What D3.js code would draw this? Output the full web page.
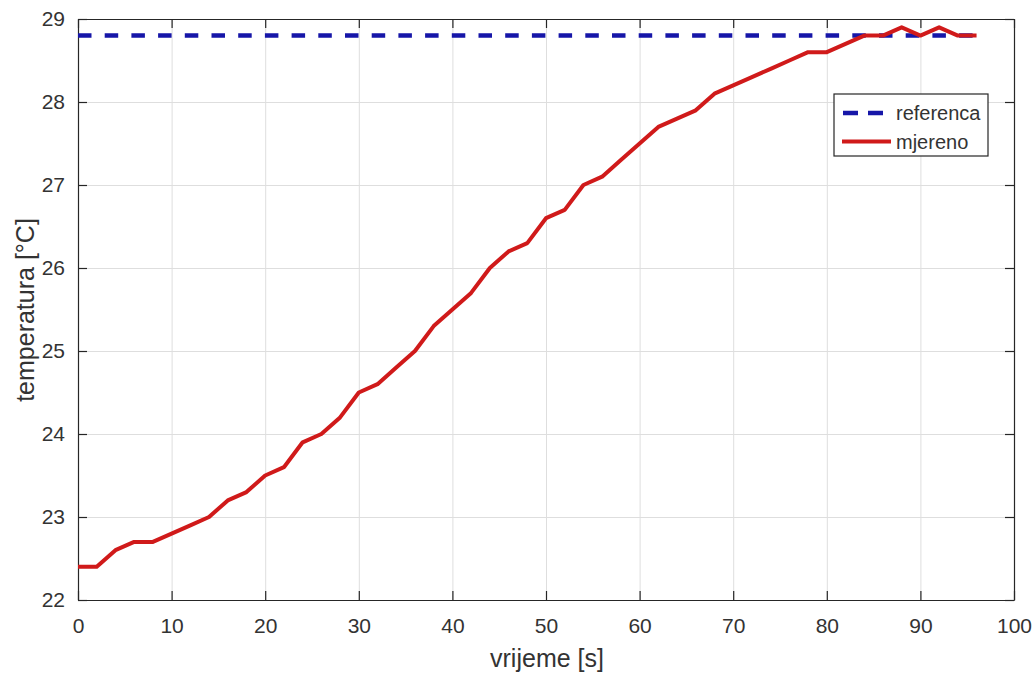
<!DOCTYPE html>
<html>
<head>
<meta charset="utf-8">
<script src="https://cdn.jsdelivr.net/npm/d3@7"></script>
<style>
  html, body { margin: 0; padding: 0; background: #ffffff; }
  svg { display: block; font-family: "Liberation Sans", Arial, sans-serif; }
</style>
</head>
<body>
<svg id="chart" width="1035" height="673"></svg>
<script>
// ---- data ----
const time = [0,2,4,6,8,10,12,14,16,18,20,22,24,26,28,30,32,34,36,38,40,42,44,46,48,50,52,54,56,58,60,62,64,66,68,70,72,74,76,78,80,82,84,86,88,90,92,94,96];
const measured = [22.4,22.4,22.6,22.7,22.7,22.8,22.9,23.0,23.2,23.3,23.5,23.6,23.9,24.0,24.2,24.5,24.6,24.8,25.0,25.3,25.5,25.7,26.0,26.2,26.3,26.6,26.7,27.0,27.1,27.3,27.5,27.7,27.8,27.9,28.1,28.2,28.3,28.4,28.5,28.6,28.6,28.7,28.8,28.8,28.9,28.8,28.9,28.8,28.8];
const refTime = [0, 96];
const refValue = [28.8, 28.8];
const xTicks = [0,10,20,30,40,50,60,70,80,90,100];
const yTicks = [22,23,24,25,26,27,28,29];
const seriesNames = ["referenca", "mjereno"];
const xLabel = "vrijeme [s]";
const yLabel = "temperatura [°C]";

(function () {
// ---- layout ----
const pL = 78, pR = 1014, pT = 19, pB = 600;
const W = pR - pL, H = pB - pT;
const svg = d3.select("#chart");

const x = d3.scaleLinear().domain([0, 100]).range([pL, pR]);
const y = d3.scaleLinear().domain([22, 29]).range([pB, pT]);

const axisColor = "#262626";
const textColor = "#333333";
const gridColor = "#dedede";
const blue = "#1616a8";
const red = "#d01a1a";
const fmt = d3.format("d");

// grid
const gx = svg.append("g").attr("transform", `translate(0,${pB})`)
  .call(d3.axisBottom(x).tickValues(xTicks).tickSize(-H).tickFormat(""));
gx.select(".domain").remove();
gx.selectAll("line").attr("stroke", gridColor).attr("stroke-width", 1);

const gy = svg.append("g").attr("transform", `translate(${pL},0)`)
  .call(d3.axisLeft(y).tickValues(yTicks).tickSize(-W).tickFormat(""));
gy.select(".domain").remove();
gy.selectAll("line").attr("stroke", gridColor).attr("stroke-width", 1);

function styleAxis(g, showText) {
  g.select(".domain").attr("stroke", axisColor).attr("stroke-width", 1.2);
  g.selectAll(".tick line").attr("stroke", axisColor).attr("stroke-width", 1.2);
  g.selectAll(".tick text").attr("fill", textColor)
    .style("font-size", "21px").style("font-family", '"Liberation Sans", Arial, sans-serif');
  if (!showText) g.selectAll(".tick text").remove();
}

const ax = svg.append("g").attr("transform", `translate(0,${pB})`)
  .call(d3.axisBottom(x).tickValues(xTicks).tickFormat(fmt).tickSizeInner(-9).tickSizeOuter(0).tickPadding(18));
styleAxis(ax, true);

const ay = svg.append("g").attr("transform", `translate(${pL},0)`)
  .call(d3.axisLeft(y).tickValues(yTicks).tickFormat(fmt).tickSizeInner(-9).tickSizeOuter(0).tickPadding(13));
styleAxis(ay, true);

const at = svg.append("g").attr("transform", `translate(0,${pT})`)
  .call(d3.axisTop(x).tickValues(xTicks).tickSizeInner(-9).tickSizeOuter(0));
styleAxis(at, false);

const ar = svg.append("g").attr("transform", `translate(${pR},0)`)
  .call(d3.axisRight(y).tickValues(yTicks).tickSizeInner(-9).tickSizeOuter(0));
styleAxis(ar, false);

// lines
const refData = refTime.map((t, i) => [t, refValue[i]]);
const measData = time.map((t, i) => [t, measured[i]]);
const line = d3.line().x(d => x(d[0])).y(d => y(d[1]));

svg.append("path").datum(refData).attr("d", line)
  .attr("fill", "none").attr("stroke", blue).attr("stroke-width", 4.5)
  .attr("stroke-dasharray", "13.5,13.2");

svg.append("path").datum(measData).attr("d", line)
  .attr("fill", "none").attr("stroke", red).attr("stroke-width", 4)
  .attr("stroke-linejoin", "round");

// axis labels
svg.append("text").attr("x", 547).attr("y", 667).attr("text-anchor", "middle")
  .attr("fill", textColor).style("font-size", "25px")
  .text(xLabel);

svg.append("text").attr("transform", "translate(34,310) rotate(-90)")
  .attr("text-anchor", "middle").attr("fill", textColor).style("font-size", "25px")
  .text(yLabel);

// legend
const lg = svg.append("g");
lg.append("rect").attr("x", 834).attr("y", 94).attr("width", 154).attr("height", 62)
  .attr("fill", "#ffffff").attr("stroke", axisColor).attr("stroke-width", 1.2);
lg.append("line").attr("x1", 843).attr("x2", 883).attr("y1", 113).attr("y2", 113)
  .attr("stroke", blue).attr("stroke-width", 4.5).attr("stroke-dasharray", "15,10");
lg.append("line").attr("x1", 842).attr("x2", 891).attr("y1", 141.5).attr("y2", 141.5)
  .attr("stroke", red).attr("stroke-width", 4);
lg.selectAll("text.leg").data(seriesNames).enter().append("text")
  .attr("class", "leg")
  .attr("x", 896).attr("y", (d, i) => 120 + i * 28.5)
  .attr("fill", textColor).style("font-size", "20px")
  .text(d => d);
})();
</script>
</body>
</html>
